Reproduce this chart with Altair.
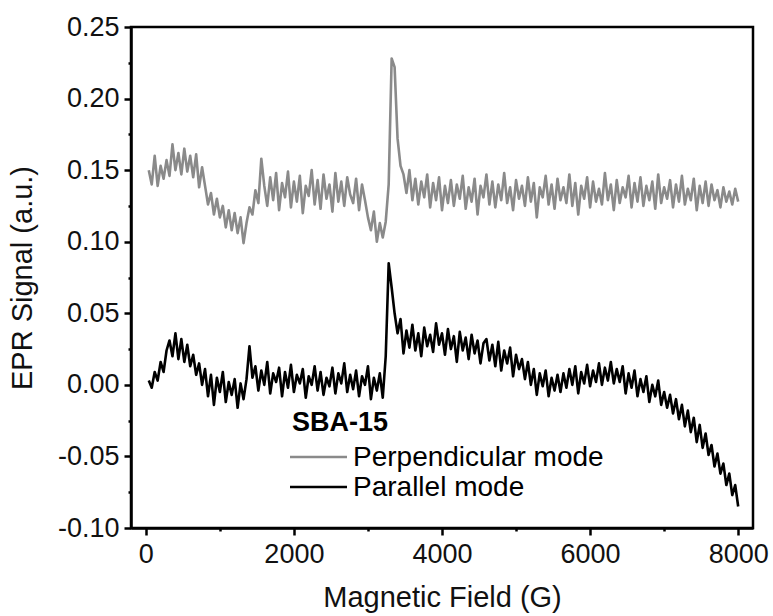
import altair as alt
import pandas as pd

# Sweep step of the field axis (G) and first field value
field_start = 40
field_step = 40

perpendicular = [
    0.150, 0.140, 0.160, 0.139, 0.153, 0.144, 0.157,
    0.146, 0.168, 0.150, 0.162, 0.147, 0.165, 0.149,
    0.160, 0.145, 0.161, 0.138, 0.152,
    0.139, 0.126, 0.134, 0.119, 0.130, 0.117,
    0.125, 0.110, 0.122, 0.108, 0.120, 0.106, 0.117, 0.099,
    0.113, 0.124, 0.119, 0.136,
    0.127, 0.158,
    0.139, 0.125, 0.145, 0.129, 0.148, 0.122, 0.141, 0.131, 0.149, 0.124,
    0.142, 0.128, 0.146, 0.120, 0.139, 0.132, 0.150, 0.126, 0.143, 0.123,
    0.147, 0.130, 0.140, 0.121, 0.148, 0.128, 0.142, 0.125, 0.145, 0.133,
    0.127, 0.144, 0.122, 0.140, 0.129,
    0.117, 0.108, 0.121, 0.100, 0.113, 0.103, 0.114,
    0.140, 0.228, 0.222, 0.172, 0.153,
    0.147, 0.134, 0.150, 0.129, 0.144, 0.126, 0.142, 0.131, 0.147, 0.124,
    0.141, 0.129, 0.145, 0.122, 0.139, 0.127, 0.143, 0.125, 0.140, 0.130,
    0.146, 0.123, 0.138, 0.128, 0.144, 0.119, 0.139, 0.131, 0.147, 0.126,
    0.142, 0.124, 0.140, 0.129, 0.148, 0.127, 0.138, 0.122, 0.143, 0.130,
    0.139, 0.125, 0.145, 0.128, 0.141, 0.117, 0.138, 0.131, 0.146, 0.126,
    0.140, 0.123, 0.144, 0.129, 0.138, 0.127, 0.147, 0.125, 0.141, 0.119,
    0.139, 0.130, 0.145, 0.124, 0.142, 0.128, 0.137, 0.126, 0.148, 0.129,
    0.140, 0.122, 0.143, 0.127, 0.138, 0.131, 0.146, 0.124, 0.141, 0.128,
    0.145, 0.125, 0.139, 0.129, 0.142, 0.123, 0.147, 0.127, 0.138, 0.130,
    0.143, 0.124, 0.140, 0.128, 0.146, 0.126, 0.137, 0.129, 0.144, 0.122,
    0.139, 0.127, 0.142, 0.125, 0.140, 0.129, 0.136, 0.124, 0.138, 0.128,
    0.135, 0.126, 0.137, 0.128,
]

parallel = [
    0.003, -0.002, 0.009,
    0.003, 0.016, 0.009, 0.024,
    0.031, 0.020, 0.036, 0.018, 0.032, 0.016,
    0.028, 0.013, 0.021, 0.007, 0.015,
    0.000, 0.011, -0.008, 0.007, -0.014, 0.005, -0.005, 0.009, -0.012, 0.002,
    -0.007, 0.004, -0.016, 0.001, -0.010,
    0.004, 0.027, 0.005,
    0.013, -0.004, 0.010, 0.000, 0.016, -0.006, 0.008, 0.002, 0.012, -0.008,
    0.009, -0.002, 0.014, -0.005, 0.007, 0.001, 0.011, -0.009, 0.006, 0.000,
    0.013, -0.004, 0.009, -0.007, 0.005, -0.001, 0.012, -0.006, 0.008, 0.001,
    0.015, -0.005, 0.007, -0.003, 0.010, -0.008, 0.006, 0.000, 0.013, -0.010,
    0.005, -0.004, 0.008, -0.009,
    0.020, 0.085, 0.068, 0.050, 0.036, 0.046,
    0.022, 0.038, 0.026, 0.042, 0.024, 0.036, 0.020, 0.040, 0.027, 0.035,
    0.023, 0.043, 0.028,
    0.036, 0.021, 0.039, 0.025, 0.034, 0.016, 0.037, 0.024, 0.033, 0.018,
    0.035, 0.022, 0.031, 0.015, 0.029,
    0.032, 0.017, 0.028, 0.013, 0.030, 0.010, 0.024, 0.015, 0.026, 0.006,
    0.021, 0.011, 0.018,
    0.004, 0.016, 0.000, 0.011, -0.007, 0.008, -0.001, 0.010, -0.008, 0.005,
    -0.004, 0.007,
    -0.005, 0.008, -0.002, 0.011, 0.000, 0.013, -0.006, 0.009, 0.001, 0.014,
    -0.001, 0.010, 0.002, 0.015, 0.000, 0.012, 0.003, 0.016, 0.001, 0.011,
    0.002, 0.013, -0.006, 0.008, -0.002, 0.010, -0.008, 0.004, -0.005, 0.006,
    -0.012, 0.000, -0.008, 0.003, -0.014,
    -0.005, -0.016, -0.007, -0.020, -0.010, -0.024, -0.014, -0.029, -0.018,
    -0.033, -0.023, -0.040, -0.028,
    -0.044, -0.034, -0.049, -0.042, -0.057, -0.048, -0.062, -0.055, -0.070,
    -0.062, -0.077, -0.070, -0.085,
]

series_names = ["Perpendicular mode", "Parallel mode"]
series_colors = ["#8a8a8a", "#000000"]
legend_title = "SBA-15"

x_ticks = [0, 1000, 2000, 3000, 4000, 5000, 6000, 7000, 8000]
y_ticks = [-0.10, -0.075, -0.05, -0.025, 0.0, 0.025, 0.05, 0.075, 0.10,
           0.125, 0.15, 0.175, 0.20, 0.225, 0.25]

rows = []
for name, vals in zip(series_names, [perpendicular, parallel]):
    for i, v in enumerate(vals):
        rows.append({"field": field_start + field_step * i, "signal": v,
                     "series": name, "order": i})
df = pd.DataFrame(rows)

FONT = "Liberation Sans"

x_axis = alt.Axis(
    values=x_ticks, format="d", title="Magnetic Field (G)",
    labelExpr="datum.value % 2000 === 0 ? datum.label : ''",
    tickSize={"condition": {"test": "datum.value % 2000 !== 0", "value": 3}, "value": 7},
    grid=False, labelFontSize=27, titleFontSize=29, labelPadding=6,
    titlePadding=16, labelFlush=False,
)
y_axis = alt.Axis(
    values=y_ticks, format=".2f", title="EPR Signal (a.u.)",
    labelExpr="round(datum.value * 1000) % 50 === 0 ? replace(datum.label, '\u2212', '-') : ''",
    tickSize={"condition": {"test": "round(datum.value * 1000) % 50 !== 0", "value": 3}, "value": 7},
    grid=False, labelFontSize=27, titleFontSize=29, labelPadding=5,
    titlePadding=20, labelFlush=False,
)

lines = alt.Chart(df).mark_line(strokeWidth=2.6, strokeJoin="round").encode(
    x=alt.X("field:Q", scale=alt.Scale(domain=[-200, 8200], nice=False, zero=False), axis=x_axis),
    y=alt.Y("signal:Q", scale=alt.Scale(domain=[-0.10, 0.25], nice=False, zero=False), axis=y_axis),
    color=alt.Color("series:N", scale=alt.Scale(domain=series_names, range=series_colors), legend=None),
    detail="series:N",
    order="order:Q",
)

title_df = pd.DataFrame({"t": [legend_title]})
leg_title = alt.Chart(title_df).mark_text(
    align="left", baseline="alphabetic", font=FONT, fontSize=27, fontWeight="bold", color="#000"
).encode(x=alt.value(161), y=alt.value(404), text="t:N")

leg_rule_1 = alt.Chart(title_df).mark_rule(color=series_colors[0], strokeWidth=2.5).encode(
    x=alt.value(159), x2=alt.value(216), y=alt.value(430))
leg_rule_2 = alt.Chart(title_df).mark_rule(color=series_colors[1], strokeWidth=2.5).encode(
    x=alt.value(159), x2=alt.value(216), y=alt.value(460))

lab_df1 = pd.DataFrame({"t": [series_names[0]]})
lab_df2 = pd.DataFrame({"t": [series_names[1]]})
leg_lab_1 = alt.Chart(lab_df1).mark_text(
    align="left", baseline="middle", font=FONT, fontSize=28, color="#000"
).encode(x=alt.value(222), y=alt.value(431), text="t:N")
leg_lab_2 = alt.Chart(lab_df2).mark_text(
    align="left", baseline="middle", font=FONT, fontSize=28, color="#000"
).encode(x=alt.value(222), y=alt.value(461), text="t:N")

chart = alt.layer(lines, leg_title, leg_rule_1, leg_rule_2, leg_lab_1, leg_lab_2).properties(
    width=622, height=501,
    padding={"left": 131, "top": 27, "right": 20, "bottom": 88},
    autosize=alt.AutoSizeParams(type="none"),
    background="white",
).configure_view(
    stroke="#000", strokeWidth=2.5
).configure_axis(
    domainColor="#000", domainWidth=2.5, tickColor="#000", tickWidth=2.5,
    labelFont=FONT, titleFont=FONT, labelColor="#111", titleColor="#111",
    titleFontWeight="normal",
)

chart.save("out.html", embed_options={"renderer": "svg", "actions": False})
